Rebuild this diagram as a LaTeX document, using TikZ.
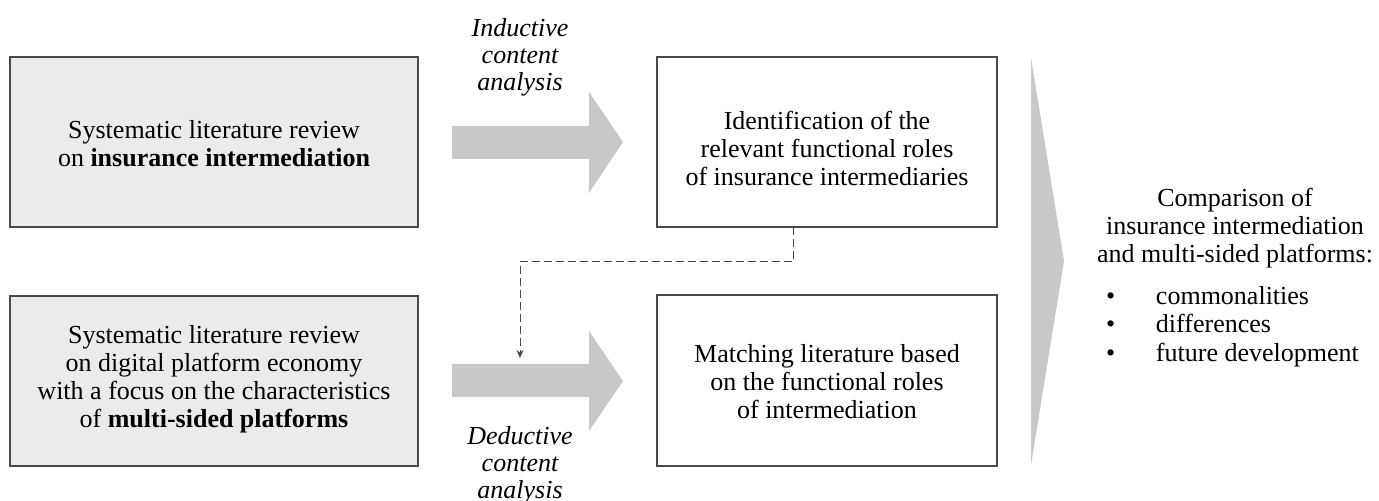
\documentclass[tikz,border=0pt]{standalone}
\usepackage{fontspec}
\setmainfont{Liberation Serif}
\usetikzlibrary{arrows.meta}
\definecolor{boxfill}{HTML}{EBEBEB}
\definecolor{boxline}{HTML}{4A4A4A}
\definecolor{arrowfill}{HTML}{C8C8C8}
\newcommand{\listmark}{\makebox[25pt][l]{\textbullet}}
\tikzset{
  x=0.5pt, y=-0.5pt,
  every node/.style={inner sep=0pt, outer sep=0pt, font=\fontsize{13}{14}\selectfont},
  graybox/.style={draw=boxline, line width=0.6pt, fill=boxfill},
  whitebox/.style={draw=boxline, line width=0.6pt, fill=white},
  blockarrow/.style={fill=arrowfill, draw=none},
  label/.style={align=center, font=\fontsize{13}{13.5}\selectfont\itshape},
  boxtext/.style={align=center},
  listitem/.style={anchor=base west},
  flow/.style={draw=boxline, line width=0.5pt, dash pattern=on 4pt off 2pt, -{Stealth[length=4pt,width=3.5pt]}},
}
\begin{document}
\begin{tikzpicture}
\path[use as bounding box] (0,0) rectangle (1379,501);

% boxes
\draw[graybox] (10,57) rectangle (418,227);
\node[boxtext] (l1) at (214,144) {Systematic literature review\\on \textbf{insurance intermediation}};
\draw[graybox] (10,296) rectangle (418,466);
\node[boxtext] (l2) at (214,379) {Systematic literature review\\on digital platform economy\\with a focus on the characteristics\\of \textbf{multi-sided platforms}};

\draw[whitebox] (657,57) rectangle (997,227);
\node[boxtext] (r1) at (827,148) {Identification of the\\relevant functional roles\\of insurance intermediaries};
\coordinate (r1s) at (793,227);
\draw[whitebox] (657,295) rectangle (997,466);
\node[boxtext] (r2) at (827,382) {Matching literature based\\on the functional roles\\of intermediation};

% block arrows
\path[blockarrow] (452,126) -- (589,126) -- (589,92) -- (623,142) -- (589,193) -- (589,159) -- (452,159) -- cycle;
\path[blockarrow] (452,364) -- (589,364) -- (589,331) -- (623,381) -- (589,431) -- (589,397) -- (452,397) -- cycle;
\path[blockarrow] (1031,58) -- (1064,261) -- (1031,465) -- cycle;

% labels
\node[label] (ind) at (520,57) {Inductive\\content\\analysis};
\node[label] (ded) at (520,465) {Deductive\\content\\analysis};

% dashed connector
\coordinate (d1) at (793,262);
\coordinate (d2) at (520,262);
\coordinate (dend) at (520,358);
\draw[flow] (r1s) -- (d1) -- (d2) -- (dend);

% comparison
\node[boxtext] (cmp) at (1235,228) {Comparison of\\insurance intermediation\\and multi-sided platforms:};
\node[listitem] (t1) at (1106,305) {\listmark commonalities};
\node[listitem] (t2) at (1106,333) {\listmark differences};
\node[listitem] (t3) at (1106,362) {\listmark future development};
\end{tikzpicture}
\end{document}
